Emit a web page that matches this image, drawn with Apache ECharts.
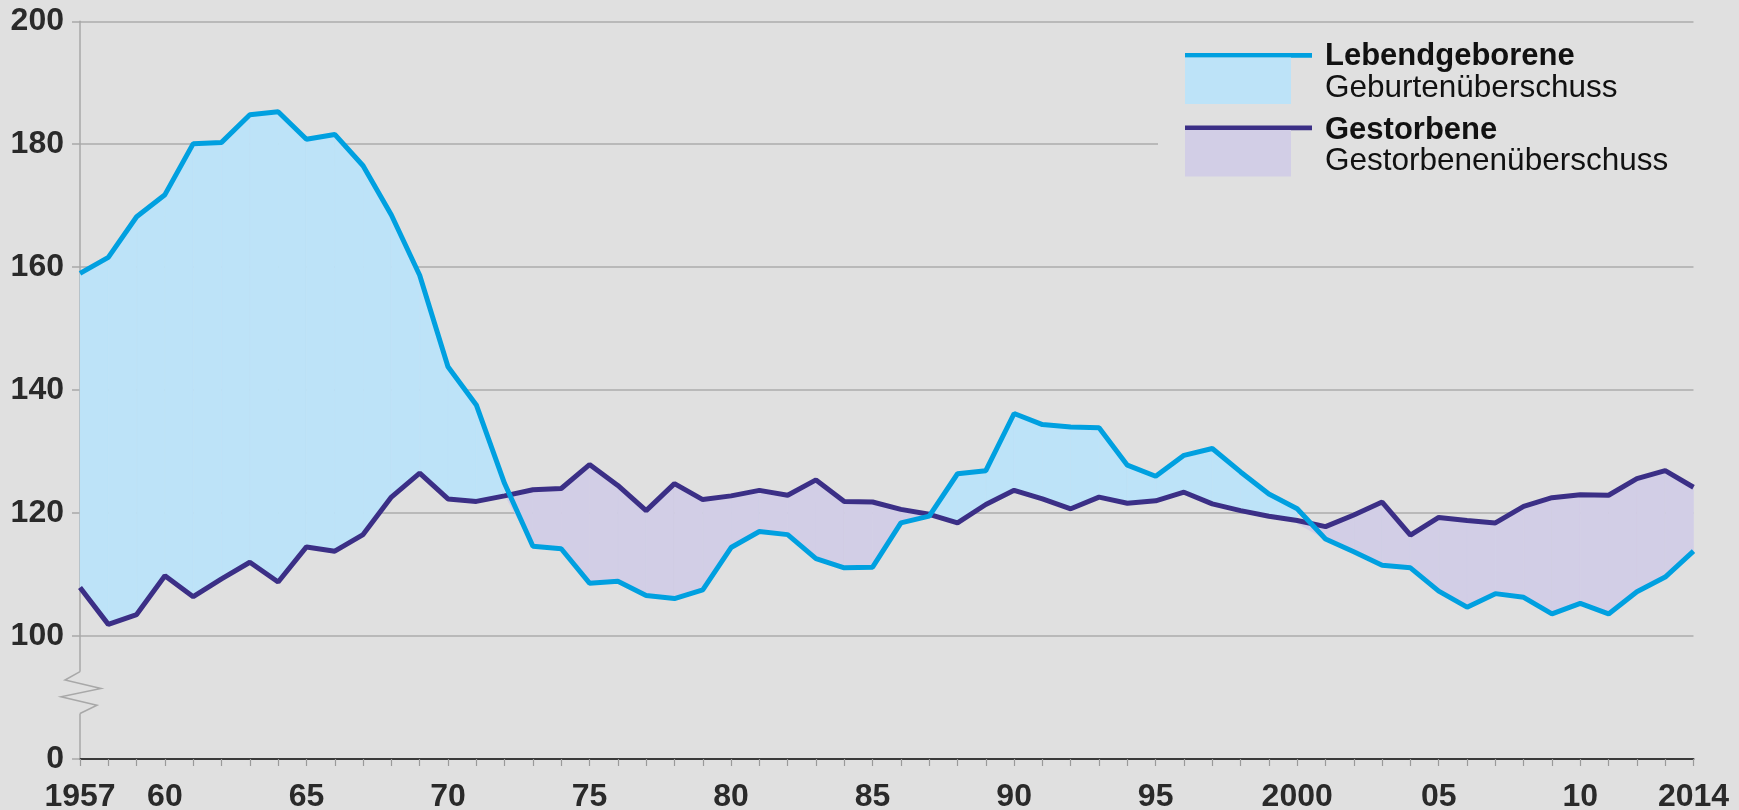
<!DOCTYPE html>
<html>
<head>
<meta charset="utf-8">
<script src="https://cdn.jsdelivr.net/npm/echarts@6/dist/echarts.min.js"></script>
<style>
  html, body { margin: 0; padding: 0; background: #e0e0e0; }
  #chart-container { width: 1739px; height: 810px; }
</style>
</head>
<body>
<div id="chart-container"></div>
<script>
// Jahre 1957 bis 2014
const years = [];
for (let y = 1957; y <= 2014; y++) years.push(y);

// Lebendgeborene (in Tausend)
const births = [
  159.0, 161.6, 168.2, 171.8, 180.1, 180.3, 184.8, 185.3, 180.8, 181.6,
  176.5, 168.5, 158.7, 143.8, 137.6, 124.8, 114.6, 114.2, 108.6, 108.9,
  106.6, 106.1, 107.5, 114.4, 117.0, 116.5, 112.6, 111.1, 111.2, 118.4,
  119.5, 126.4, 126.9, 136.2, 134.4, 134.0, 133.9, 127.8, 126.0, 129.4,
  130.5, 126.7, 123.1, 120.7, 115.8, 113.7, 111.5, 111.1, 107.3, 104.7,
  106.9, 106.3, 103.6, 105.3, 103.6, 107.2, 109.6, 113.8
];

// Gestorbene (in Tausend)
const deaths = [
  107.9, 101.9, 103.5, 109.8, 106.4, 109.3, 112.0, 108.8, 114.5, 113.8,
  116.5, 122.6, 126.5, 122.3, 121.9, 122.8, 123.8, 124.0, 127.9, 124.5,
  120.4, 124.8, 122.2, 122.8, 123.7, 122.9, 125.4, 121.9, 121.8, 120.6,
  119.8, 118.4, 121.4, 123.7, 122.3, 120.7, 122.6, 121.6, 122.0, 123.4,
  121.5, 120.4, 119.5, 118.8, 117.8, 119.7, 121.8, 116.4, 119.3, 118.8,
  118.4, 121.1, 122.5, 123.0, 122.9, 125.6, 126.9, 124.2
];

// Achsenbeschriftungen
const labelYears = [1957, 1960, 1965, 1970, 1975, 1980, 1985, 1990, 1995, 2000, 2005, 2010, 2014];
const labelTexts = ['1957', '60', '65', '70', '75', '80', '85', '90', '95', '2000', '05', '10', '2014'];
const yTicks = [80, 100, 120, 140, 160, 180, 200];
const yTickTexts = ['0', '100', '120', '140', '160', '180', '200'];

const BG = '#e0e0e0';
const BLUE = '#00a0e0';
const BLUE_FILL = '#bde3f8';
const PURPLE = '#3b2f86';
const PURPLE_FILL = '#d2cee6';
const FONT = '"Liberation Sans", Arial, Helvetica, sans-serif';

const chart = echarts.init(document.getElementById('chart-container'));

// Fläche zwischen den beiden Linien, an Schnittpunkten geteilt
function renderGap(params, api) {
  const i = params.dataIndex;
  if (i >= years.length - 1) return null;
  const b0 = births[i], d0 = deaths[i], b1 = births[i + 1], d1 = deaths[i + 1];
  const diff0 = b0 - d0, diff1 = b1 - d1;
  const polys = [];
  const poly = (pts, positive) => ({
    type: 'polygon',
    shape: { points: pts.map((p) => api.coord(p)) },
    style: {
      fill: positive ? BLUE_FILL : PURPLE_FILL,
      stroke: positive ? BLUE_FILL : PURPLE_FILL,
      lineWidth: 0.6,
    },
  });
  if (diff0 * diff1 >= 0) {
    polys.push(poly([[i, b0], [i + 1, b1], [i + 1, d1], [i, d0]], diff0 + diff1 >= 0));
  } else {
    const t = diff0 / (diff0 - diff1);
    const xc = i + t;
    const vc = b0 + t * (b1 - b0);
    polys.push(poly([[i, b0], [xc, vc], [i, d0]], diff0 > 0));
    polys.push(poly([[xc, vc], [i + 1, b1], [i + 1, d1]], diff1 > 0));
  }
  return { type: 'group', children: polys };
}

// Achsenbruch-Zickzack auf der y-Achse
function renderBreak(params, api) {
  const top = api.coord([0, 94.2]);
  const bot = api.coord([0, 87.4]);
  const x = top[0];
  const h = bot[1] - top[1];
  const offs = [0, -15, 21, -19, 17, 0];
  const pts = offs.map((o, k) => [x + o, top[1] + (h * k) / (offs.length - 1)]);
  return {
    type: 'group',
    children: [
      { type: 'rect', shape: { x: x - 3, y: top[1], width: 6, height: h }, style: { fill: BG } },
      { type: 'polyline', shape: { points: pts }, style: { stroke: '#a8a8a8', lineWidth: 1.5, fill: null } },
    ],
  };
}

const option = {
  backgroundColor: BG,
  animation: false,
  grid: { left: 80, right: 45.5, top: 21.3, bottom: 51, outerBoundsMode: 'none' },
  xAxis: {
    type: 'category',
    data: years.map(String),
    boundaryGap: false,
    axisLine: { lineStyle: { color: '#3a3a3a', width: 2 } },
    axisTick: { interval: 0, length: 7, lineStyle: { color: '#9a9a9a', width: 1.2 } },
    axisLabel: {
      interval: 0,
      margin: 22,
      color: '#2a2a2a',
      fontFamily: FONT,
      fontWeight: 'bold',
      fontSize: 32,
      formatter: (v) => {
        const k = labelYears.indexOf(Number(v));
        return k >= 0 ? labelTexts[k] : '';
      },
    },
    splitLine: { show: false },
  },
  yAxis: {
    type: 'value',
    min: 80,
    max: 200,
    interval: 20,
    axisLine: { show: true, lineStyle: { color: '#a8a8a8', width: 1.5 } },
    axisTick: { show: true, length: 8, lineStyle: { color: '#a8a8a8', width: 1.5 } },
    axisLabel: {
      margin: 16,
      color: '#2a2a2a',
      fontFamily: FONT,
      fontWeight: 'bold',
      fontSize: 32,
      formatter: (v) => {
        const k = yTicks.indexOf(v);
        return k >= 0 ? yTickTexts[k] : '';
      },
    },
    splitLine: {
      show: true,
      lineStyle: {
        color: ['transparent', '#adadad', '#adadad', '#adadad', '#adadad', '#adadad', '#adadad'],
        width: 1.5,
      },
    },
  },
  series: [
    {
      name: 'Überschuss',
      type: 'custom',
      z: 1,
      silent: true,
      renderItem: renderGap,
      data: years.map((y, i) => [i, births[i], deaths[i]]),
    },
    {
      name: 'Gestorbene',
      type: 'line',
      z: 3,
      data: deaths,
      showSymbol: false,
      lineStyle: { color: PURPLE, width: 5 },
      itemStyle: { color: PURPLE },
    },
    {
      name: 'Lebendgeborene',
      type: 'line',
      z: 4,
      data: births,
      showSymbol: false,
      lineStyle: { color: BLUE, width: 5 },
      itemStyle: { color: BLUE },
    },
    {
      name: 'Achsenbruch',
      type: 'custom',
      z: 5,
      silent: true,
      clip: false,
      renderItem: renderBreak,
      data: [[0]],
    },
  ],
  graphic: [
    { type: 'rect', z: 100, shape: { x: 1158, y: 30, width: 581, height: 158 }, style: { fill: BG } },
    { type: 'rect', z: 101, shape: { x: 1185, y: 53, width: 127, height: 4.7 }, style: { fill: BLUE } },
    { type: 'rect', z: 101, shape: { x: 1185, y: 57.5, width: 106, height: 46.5 }, style: { fill: BLUE_FILL } },
    { type: 'rect', z: 101, shape: { x: 1185, y: 125.5, width: 127, height: 4.7 }, style: { fill: PURPLE } },
    { type: 'rect', z: 101, shape: { x: 1185, y: 130, width: 106, height: 46.5 }, style: { fill: PURPLE_FILL } },
    {
      type: 'text', z: 101, x: 1325, y: 56.7,
      style: { text: 'Lebendgeborene', font: 'bold 31px ' + FONT, fill: '#111', verticalAlign: 'middle' },
    },
    {
      type: 'text', z: 101, x: 1325, y: 88.8,
      style: { text: 'Geburtenüberschuss', font: '31.5px ' + FONT, fill: '#111', verticalAlign: 'middle' },
    },
    {
      type: 'text', z: 101, x: 1325, y: 130,
      style: { text: 'Gestorbene', font: 'bold 31px ' + FONT, fill: '#111', verticalAlign: 'middle' },
    },
    {
      type: 'text', z: 101, x: 1325, y: 161.7,
      style: { text: 'Gestorbenenüberschuss', font: '31.5px ' + FONT, fill: '#111', verticalAlign: 'middle' },
    },
  ],
};

chart.setOption(option);
</script>
</body>
</html>
